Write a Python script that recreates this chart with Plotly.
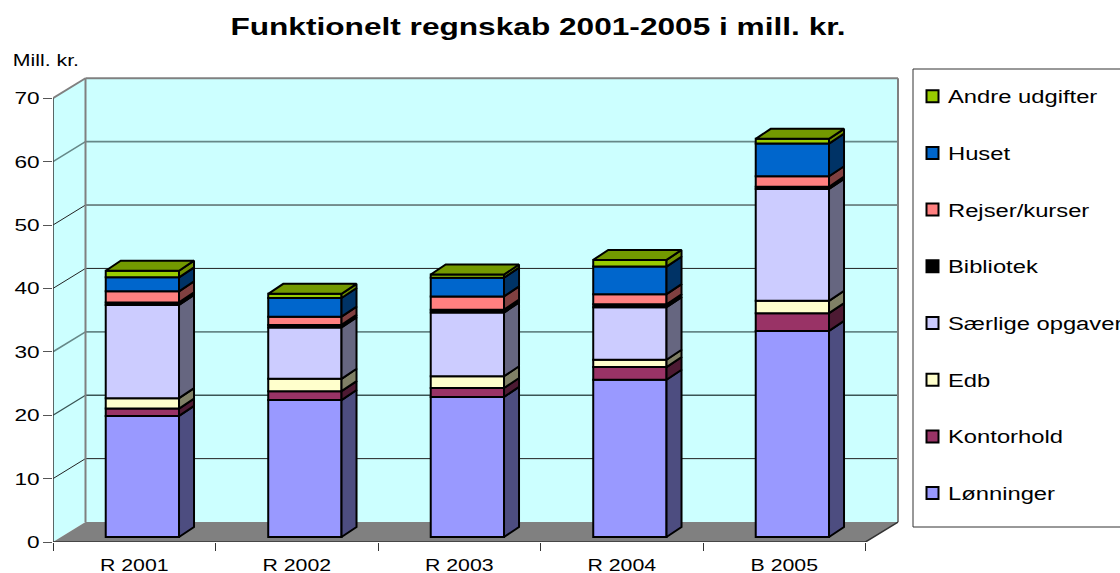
import plotly.graph_objects as go

categories = ["R 2001", "R 2002", "R 2003", "R 2004", "B 2005"]
series_names = ["Lønninger", "Kontorhold", "Edb", "Særlige opgaver", "Bibliotek",
                "Rejser/kurser", "Huset", "Andre udgifter"]
lonninger = [19.1, 21.6, 22.1, 24.8, 32.5]
kontorhold = [1.15, 1.4, 1.4, 2.0, 2.8]
edb = [1.65, 1.95, 1.85, 1.15, 1.95]
saerlige = [14.7, 8.1, 10.05, 8.3, 17.65]
bibliotek = [0.4, 0.4, 0.45, 0.45, 0.35]
rejser = [1.75, 1.3, 2.1, 1.6, 1.65]
huset = [2.2, 2.95, 2.95, 4.35, 5.15]
andre = [1.05, 0.65, 0.5, 1.05, 0.75]
series_values = [lonninger, kontorhold, edb, saerlige, bibliotek, rejser, huset, andre]
front_colors = ["#9999FF", "#993366", "#FFFFCC", "#CCCCFF", "#000000", "#FF8080", "#0066CC", "#99CC00"]
side_colors = ["#4D4D80", "#4D1A33", "#808066", "#666680", "#000000", "#804040", "#003366", "#6F8F00"]
top_color = "#739900"
y_ticks = [0, 10, 20, 30, 40, 50, 60, 70]
grid_colors = {10: "#222", 20: "#3A5555", 30: "#668888", 40: "#222", 50: "#222", 60: "#668888", 70: "#808080"}
grid_widths = {10: 1, 20: 1.3, 30: 1.6, 40: 1, 50: 1, 60: 1.6, 70: 2}

FONT = "Liberation Sans"
# projection in axis units
wall_dx, wall_dy = 0.2, 3.15
bar_dx, bar_dy = 0.05, 0.79
side_dx, side_dy = 0.0923, 1.58
bar_w = 0.451
n = len(categories)
L, T, R, B = 53, 73, 906, 542
W, H = 1120, 573

fig = go.Figure()
edge = dict(color="#000000", width=2)

base = [bar_dy] * n
for k, (name, vals, fc, sc) in enumerate(zip(series_names, series_values, front_colors, side_colors)):
    centers = [i + 0.5 + bar_dx for i in range(n)]
    fig.add_trace(go.Bar(x=centers, y=vals, base=base, width=bar_w, name=name,
                         legendgroup=name, legendrank=1000 - k,
                         marker=dict(color=fc, line=edge), hoverinfo="skip"))
    new_base = [b + v for b, v in zip(base, vals)]
    xs, ys = [], []
    for i in range(n):
        xr = centers[i] + bar_w / 2
        xs += [xr, xr + side_dx, xr + side_dx, xr, xr, None]
        ys += [base[i], base[i] + side_dy, new_base[i] + side_dy, new_base[i], base[i], None]
    fig.add_trace(go.Scatter(x=xs, y=ys, mode="lines", fill="toself", fillcolor=sc,
                             line=edge, showlegend=False, hoverinfo="skip"))
    base = new_base

xs, ys = [], []
for i in range(n):
    xl = i + 0.5 + bar_dx - bar_w / 2
    xr = xl + bar_w
    t = base[i]
    xs += [xl, xr, xr + side_dx, xl + side_dx, xl, None]
    ys += [t, t, t + side_dy, t + side_dy, t, None]
fig.add_trace(go.Scatter(x=xs, y=ys, mode="lines", fill="toself", fillcolor=top_color,
                         line=edge, showlegend=False, hoverinfo="skip"))

# axes drawn on the front edge
fig.add_trace(go.Scatter(x=[0, 0, None, 0, n, n + wall_dx], y=[max(y_ticks), 0, None, 0, 0, wall_dy],
                         mode="lines", line=dict(color="#333333", width=1.5),
                         cliponaxis=False, showlegend=False, hoverinfo="skip"))

shapes = []
top = max(y_ticks)
shapes.append(dict(type="path", layer="below", xref="x", yref="y", line=dict(width=0),
                   fillcolor="#CCFFFF",
                   path=f"M0,0 L{wall_dx},{wall_dy} L{wall_dx},{top+wall_dy} L0,{top} Z"))
shapes.append(dict(type="rect", layer="below", xref="x", yref="y", line=dict(width=0),
                   fillcolor="#CCFFFF", x0=wall_dx, x1=n + wall_dx, y0=wall_dy, y1=top + wall_dy))
shapes.append(dict(type="path", layer="below", xref="x", yref="y", line=dict(width=0),
                   fillcolor="#808080",
                   path=f"M0,0 L{n},0 L{n+wall_dx},{wall_dy} L{wall_dx},{wall_dy} Z"))
for v in y_ticks[1:]:
    ln = dict(color=grid_colors[v], width=grid_widths[v])
    shapes.append(dict(type="line", layer="below", xref="x", yref="y", x0=wall_dx, x1=n + wall_dx,
                       y0=v + wall_dy, y1=v + wall_dy, line=ln))
    shapes.append(dict(type="line", layer="below", xref="x", yref="y", x0=0, x1=wall_dx,
                       y0=v, y1=v + wall_dy, line=ln))
wall_edge = dict(color="#808080", width=2)
shapes.append(dict(type="line", layer="below", xref="x", yref="y", x0=wall_dx, x1=wall_dx,
                   y0=wall_dy, y1=top + wall_dy, line=wall_edge))
shapes.append(dict(type="line", layer="below", xref="x", yref="y", x0=n + wall_dx, x1=n + wall_dx,
                   y0=wall_dy, y1=top + wall_dy, line=wall_edge))
# legend frame
pw, ph = R - L, B - T
shapes.append(dict(type="rect", xref="paper", yref="paper", layer="below",
                   x0=(913 - L) / pw, x1=(1130 - L) / pw,
                   y0=(B - 527) / ph, y1=(B - 69) / ph,
                   line=dict(color="#333333", width=1), fillcolor="white"))

fig.update_layout(
    width=W, height=H, margin=dict(l=L, t=T, r=W - R, b=H - B),
    paper_bgcolor="white", plot_bgcolor="white", barmode="overlay",
    font=dict(family=FONT, color="#000000"),
    shapes=shapes,
    title=dict(text="Funktionelt regnskab 2001-2005 i mill. kr.",
               x=538 / W, xanchor="center", y=1 - 27 / H, yanchor="middle",
               font=dict(family=FONT, size=23, weight="bold", color="#000000")),
    xaxis=dict(range=[0, (R - L) / 162.5], showgrid=False, zeroline=False, showline=False,
               automargin=False,
               tickmode="array", tickvals=[i + 0.5 for i in range(n)], ticktext=categories,
               ticks="outside", ticklen=9, tickcolor="rgba(0,0,0,0)", tickfont=dict(size=16),
               minor=dict(tickmode="array", tickvals=list(range(n + 1)), ticks="outside",
                          ticklen=8, tickcolor="#333333", tickwidth=1)),
    yaxis=dict(range=[0, (B - T) / 6.34], showgrid=False, zeroline=False, showline=False,
               automargin=False,
               tickmode="array", tickvals=y_ticks, ticks="outside", ticklen=9,
               tickcolor="#555555", tickwidth=1, tickfont=dict(size=17)),
    legend=dict(x=(908 - L) / pw, y=(B - 78) / ph, xanchor="left", yanchor="top",
                traceorder="grouped", tracegroupgap=30.3, bgcolor="rgba(0,0,0,0)",
                font=dict(family=FONT, size=18), itemwidth=30),
    annotations=[dict(text="Mill. kr.", xref="paper", yref="paper", x=(19 - L) / pw, y=(B - 60) / ph,
                      xanchor="left", yanchor="middle", showarrow=False,
                      font=dict(family=FONT, size=16))],
    hovermode=False,
)

# The reference's lettering is Arial stretched sideways by about a third.
post = """
document.body.style.margin = '0';
function stretchText() {
  document.querySelectorAll('.plotly-graph-div svg text').forEach(function (t) {
    if (t.getAttribute('textLength')) return;
    var w = t.getComputedTextLength();
    if (w > 0) {
      var f = t.classList.contains('gtitle') ? 1.375 : (t.classList.contains('legendtext') ? 1.32 : 1.33);
      t.setAttribute('textLength', w * f);
      t.setAttribute('lengthAdjust', 'spacingAndGlyphs');
    }
  });
  document.querySelectorAll('.legend, .legend .scrollbox').forEach(function (el) {
    el.removeAttribute('clip-path');
    el.style.clipPath = 'none';
  });
  document.querySelectorAll('.legend .legendsymbols').forEach(function (el) {
    el.setAttribute('transform', 'translate(4.5,0)');
  });
}
stretchText();
setTimeout(stretchText, 100);
"""
fig.write_html("out.html", config={"displayModeBar": False}, post_script=post)
